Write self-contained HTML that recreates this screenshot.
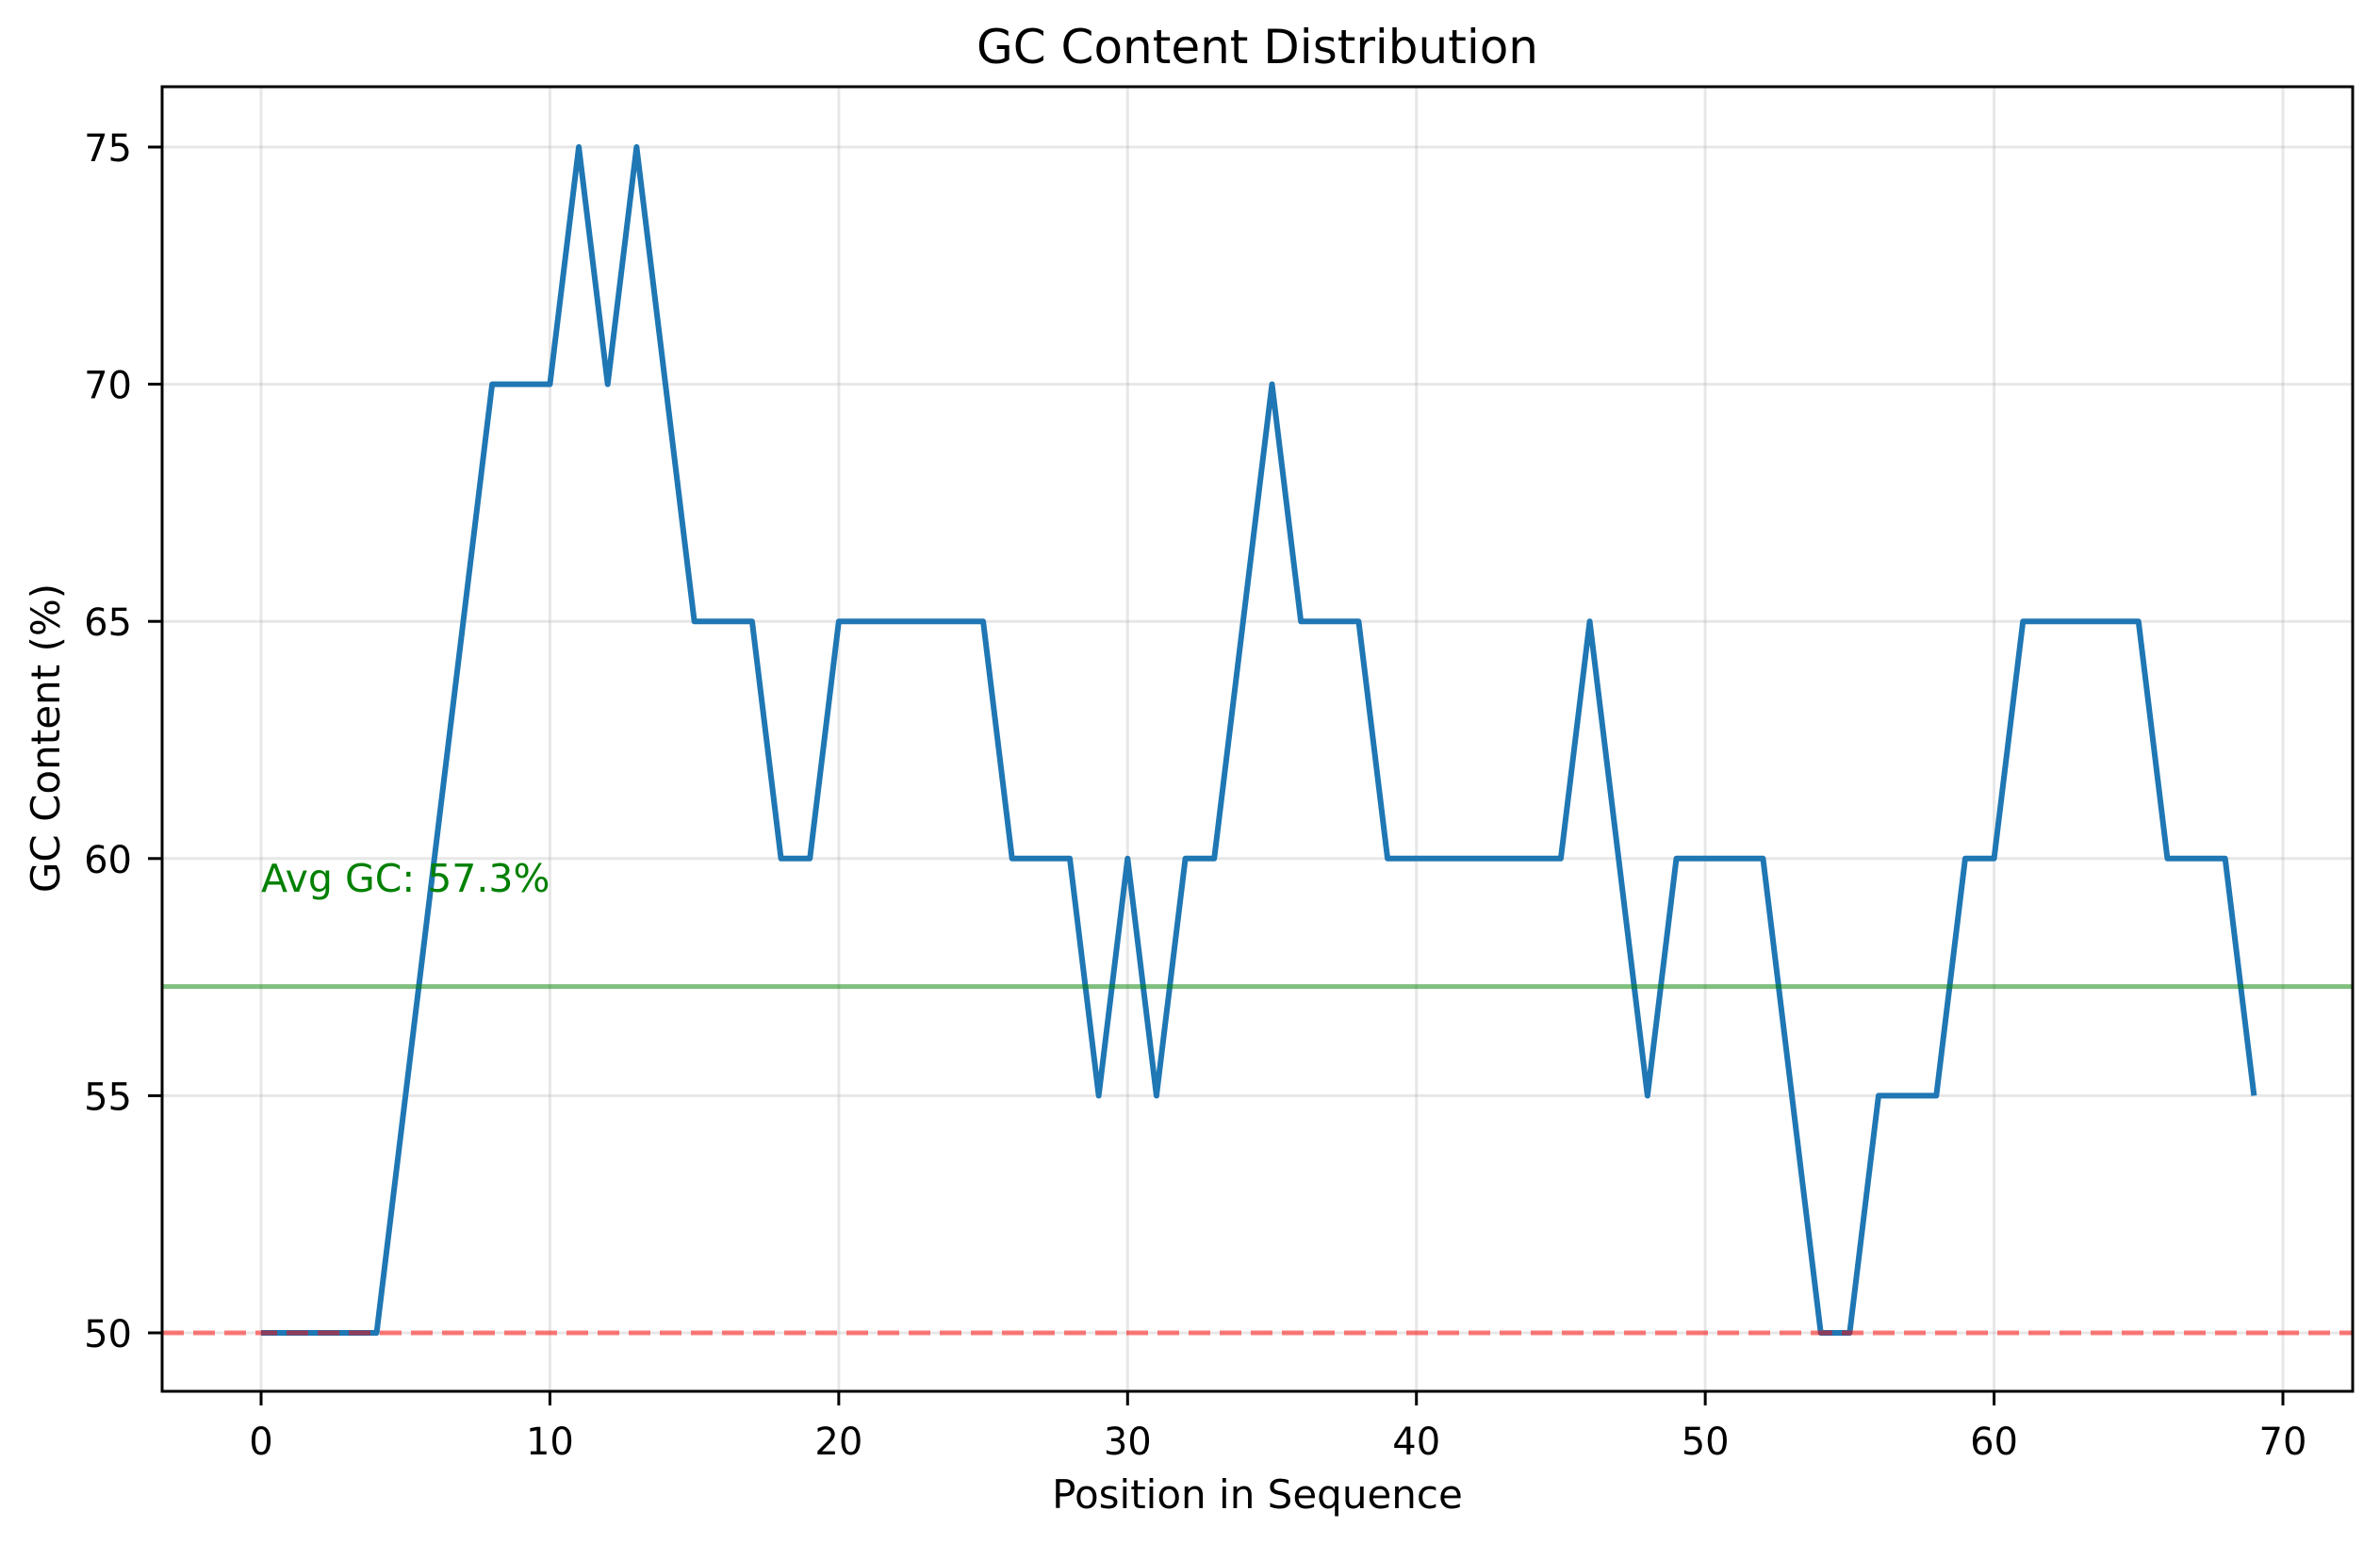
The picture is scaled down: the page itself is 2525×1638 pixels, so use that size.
<!DOCTYPE html>
<html><head><meta charset="utf-8"><style>
html,body{margin:0;padding:0;background:#fff;}
svg{display:block;font-family:"DejaVu Sans","Liberation Sans",sans-serif;}
</style></head><body>
<svg id="chart" width="2525" height="1638" viewBox="0 0 2525 1638" xmlns="http://www.w3.org/2000/svg">
<rect width="2525" height="1638" fill="#fff"/>
<text x="1334" y="67" text-anchor="middle" font-size="50" fill="#000">GC Content Distribution</text>
<text x="1334" y="1600" text-anchor="middle" font-size="42" fill="#000">Position in Sequence</text>
<text transform="translate(63,783) rotate(-90)" text-anchor="middle" font-size="42" fill="#000">GC Content (%)</text>
<g id="grid"></g>
<g id="marks"></g>
<rect x="172" y="92" width="2324" height="1384" fill="none" stroke="#000" stroke-width="3"/>
<g id="ticks"></g>
</svg>
<script>
const gcValues = [50,50,50,50,50,55,60,65,70,70,70,75,70,75,70,65,65,65,60,60,65,65,65,65,65,65,60,60,60,55,60,55,60,60,65,70,65,65,65,60,60,60,60,60,60,60,65,60,55,60,60,60,60,55,50,50,55,55,55,60,60,65,65,65,65,65,60,60,60,55];
const xTicks = [0,10,20,30,40,50,60,70];
const yTicks = [50,55,60,65,70,75];
const avgGC = 57.3;
const threshold = 50;
const avgLabel = "Avg GC: 57.3%";

const NS = "http://www.w3.org/2000/svg";
const L=172,R=2496,T=92,B=1476;
const xs = v => 277 + (v-0)*(2422-277)/70;
const ys = v => 1414 - (v-50)*(1414-156)/25;
function mk(tag, attrs, parent){const e=document.createElementNS(NS,tag);for(const k in attrs)e.setAttribute(k,attrs[k]);parent.appendChild(e);return e;}
const grid=document.getElementById('grid'), marks=document.getElementById('marks'), ticks=document.getElementById('ticks');
xTicks.forEach(t=>{
  const g=mk('line',{x1:xs(t),x2:xs(t),y1:T,y2:B,stroke:'#b0b0b0','stroke-opacity':0.3,'stroke-width':3},grid);
  
  
  const tk=mk('line',{x1:xs(t),x2:xs(t),y1:B,y2:B+15,stroke:'#000','stroke-width':3},ticks);
  
  
  const tx=mk('text',{x:xs(t),y:1543,'text-anchor':'middle','font-size':40,fill:'#000'},ticks);
  tx.textContent=t;
  
  
});
yTicks.forEach(t=>{
  const g=mk('line',{x1:L,x2:R,y1:ys(t),y2:ys(t),stroke:'#b0b0b0','stroke-opacity':0.3,'stroke-width':3},grid);
  
  
  const tk=mk('line',{x1:L-15,x2:L,y1:ys(t),y2:ys(t),stroke:'#000','stroke-width':3},ticks);
  
  
  const tx=mk('text',{x:140,y:ys(t)+15,'text-anchor':'end','font-size':40,fill:'#000'},ticks);
  tx.textContent=t;
  
  
});
const pts=gcValues.map((v,i)=>xs(i)+','+ys(v)).join(' ');
const line=mk('polyline',{points:pts,fill:'none',stroke:'#1f77b4','stroke-width':6,'stroke-linejoin':'round'},marks);


const th=mk('line',{x1:L,x2:R,y1:ys(threshold),y2:ys(threshold),stroke:'#ff0000','stroke-opacity':0.5,'stroke-width':5,'stroke-dasharray':'23,10'},marks);


const av=mk('line',{x1:L,x2:R,y1:ys(avgGC),y2:ys(avgGC),stroke:'#008000','stroke-opacity':0.5,'stroke-width':5},marks);


const at=mk('text',{x:xs(0),y:ys(avgGC+2),'font-size':41,fill:'#008000'},marks);
at.textContent=avgLabel;


</script>
</body></html>
